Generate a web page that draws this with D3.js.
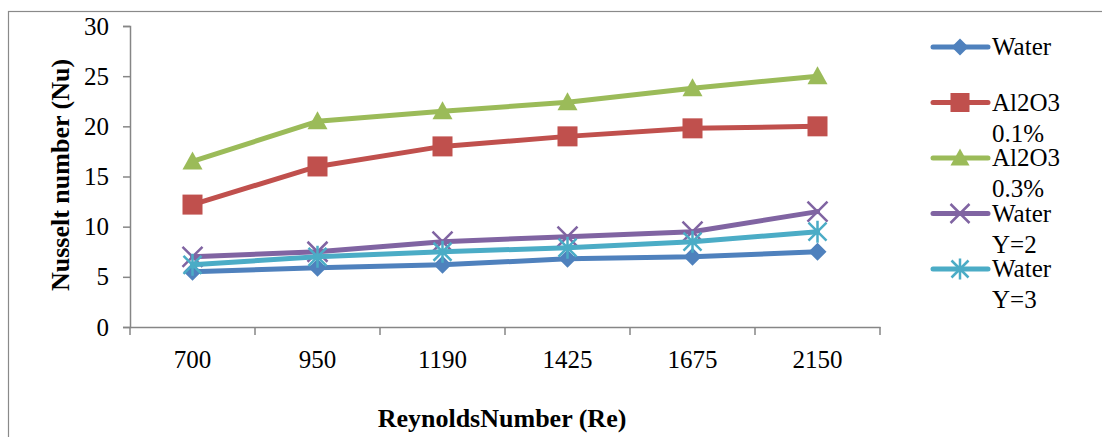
<!DOCTYPE html>
<html>
<head>
<meta charset="utf-8">
<script src="https://cdnjs.cloudflare.com/ajax/libs/d3/7.8.5/d3.min.js"></script>
<style>
body { margin: 0; background: #fff; }
</style>
</head>
<body>
<svg id="chart" width="1102" height="437"></svg>
<script>
var categories = ["700", "950", "1190", "1425", "1675", "2150"];
var water = [5.5, 5.9, 6.2, 6.8, 7.0, 7.5];
var al2o3_01 = [12.2, 16, 18, 19, 19.8, 20];
var al2o3_03 = [16.5, 20.5, 21.5, 22.4, 23.8, 25];
var waterY2 = [7, 7.5, 8.5, 9, 9.5, 11.5];
var waterY3 = [6.2, 7, 7.5, 7.9, 8.5, 9.5];
var yTicks = [0, 5, 10, 15, 20, 25, 30];

var FONT = "Liberation Serif";

var series = [
  { name: ["Water"], values: water, color: "#4F81BD", marker: "diamond" },
  { name: ["Al2O3", "0.1%"], values: al2o3_01, color: "#C0504D", marker: "square" },
  { name: ["Al2O3", "0.3%"], values: al2o3_03, color: "#9BBB59", marker: "triangle" },
  { name: ["Water", "Y=2"], values: waterY2, color: "#8064A2", marker: "x" },
  { name: ["Water", "Y=3"], values: waterY3, color: "#4BACC6", marker: "star" }
];

var svg = d3.select("#chart");
var margin = {top: 26, left: 130, right: 222, bottom: 110};
var width = 880 - margin.left;
var height = 327 - margin.top;

// outer chart border
svg.append("rect")
    .attr("x", 8.5).attr("y", 11.5)
    .attr("width", 1200).attr("height", 500)
    .attr("fill", "none").attr("stroke", "#8a8a8a").attr("stroke-width", 1.2);

var x = d3.scaleBand().domain(categories).range([0, width]);
var y = d3.scaleLinear().domain([0, 30]).range([height, 0]);

var g = svg.append("g")
    .attr("transform", "translate(" + margin.left + "," + margin.top + ")");

// y axis
var yAxis = g.append("g")
    .call(d3.axisLeft(y).tickValues(yTicks).tickSize(7).tickPadding(14));
yAxis.attr("font-family", FONT);
yAxis.select(".domain").attr("stroke", "#868686").attr("stroke-width", 1.5);
yAxis.selectAll(".tick line").attr("stroke", "#868686").attr("stroke-width", 1.5);
yAxis.selectAll(".tick text").attr("font-size", 25).attr("font-family", FONT).attr("fill", "#000");

// x axis
var xAxis = g.append("g")
    .attr("transform", "translate(0," + height + ")")
    .call(d3.axisBottom(x).tickSize(0).tickPadding(23.5));
xAxis.attr("font-family", FONT);
xAxis.select(".domain").attr("stroke", "#868686").attr("stroke-width", 1.5);
xAxis.selectAll(".tick text").attr("font-size", 25).attr("font-family", FONT).attr("fill", "#000");
var edges = categories.map(function(c) { return x(c); }).concat([width]);
xAxis.selectAll(".edge")
    .data(edges)
  .enter().append("line")
    .attr("x1", function(d) { return d; }).attr("x2", function(d) { return d; })
    .attr("y1", 0).attr("y2", 8)
    .attr("stroke", "#868686").attr("stroke-width", 1.5);

// axis titles
svg.append("text")
    .attr("transform", "translate(69,175) rotate(-90)")
    .attr("text-anchor", "middle")
    .attr("font-family", FONT)
    .attr("font-size", 26).attr("font-weight", "bold")
    .text("Nusselt number (Nu)");
svg.append("text")
    .attr("x", 502).attr("y", 427)
    .attr("text-anchor", "middle")
    .attr("font-family", FONT)
    .attr("font-size", 26).attr("font-weight", "bold")
    .text("ReynoldsNumber (Re)");

function drawMarker(sel, type, color, s) {
  if (type === "diamond") {
    sel.append("path").attr("d", "M0,-" + s + "L" + s + ",0L0," + s + "L-" + s + ",0Z").attr("fill", color);
  } else if (type === "square") {
    sel.append("rect").attr("x", -s).attr("y", -s).attr("width", 2 * s).attr("height", 2 * s).attr("fill", color);
  } else if (type === "triangle") {
    sel.append("path").attr("d", "M0,-" + (s + 1) + "L" + (s + 1) + "," + (s - 1) + "L-" + (s + 1) + "," + (s - 1) + "Z").attr("fill", color);
  } else if (type === "x") {
    sel.append("path").attr("d", "M-" + s + ",-" + s + "L" + s + "," + s + "M" + s + ",-" + s + "L-" + s + "," + s)
      .attr("stroke", color).attr("stroke-width", 2.5).attr("fill", "none");
  } else if (type === "star") {
    sel.append("path").attr("d", "M-" + s + ",-" + s + "L" + s + "," + s + "M" + s + ",-" + s + "L-" + s + "," + s + "M0,-" + (s + 2) + "L0," + (s + 2))
      .attr("stroke", color).attr("stroke-width", 2.5).attr("fill", "none");
  }
}
var markerSize = { diamond: 9, square: 10, triangle: 9, x: 10, star: 9 };

var line = d3.line()
    .x(function(d, i) { return x(categories[i]) + x.bandwidth() / 2; })
    .y(function(d) { return y(d); });

series.forEach(function(s) {
  g.append("path")
    .datum(s.values)
    .attr("d", line)
    .attr("fill", "none")
    .attr("stroke", s.color)
    .attr("stroke-width", 5)
    .attr("stroke-linejoin", "round")
    .attr("stroke-linecap", "round");
  g.selectAll(null)
    .data(s.values)
  .enter().append("g")
    .attr("transform", function(d, i) { return "translate(" + (x(categories[i]) + x.bandwidth() / 2) + "," + y(d) + ")"; })
    .each(function() { drawMarker(d3.select(this), s.marker, s.color, markerSize[s.marker]); });
});

// legend
var legend = svg.append("g").attr("transform", "translate(933,47)");
series.forEach(function(s, i) {
  var row = legend.append("g").attr("transform", "translate(0," + (i * 55.5) + ")");
  row.append("line").attr("x1", 0).attr("x2", 55).attr("y1", 0).attr("y2", 0)
    .attr("stroke", s.color).attr("stroke-width", 5).attr("stroke-linecap", "round");
  var mg = row.append("g").attr("transform", "translate(27,0)");
  drawMarker(mg, s.marker, s.color, markerSize[s.marker] - 0.5);
  s.name.forEach(function(t, j) {
    row.append("text")
      .attr("x", 59).attr("y", j * 31 + 8)
      .attr("font-family", FONT)
      .attr("font-size", 25)
      .attr("fill", "#000")
      .text(t);
  });
});
</script>
</body>
</html>
